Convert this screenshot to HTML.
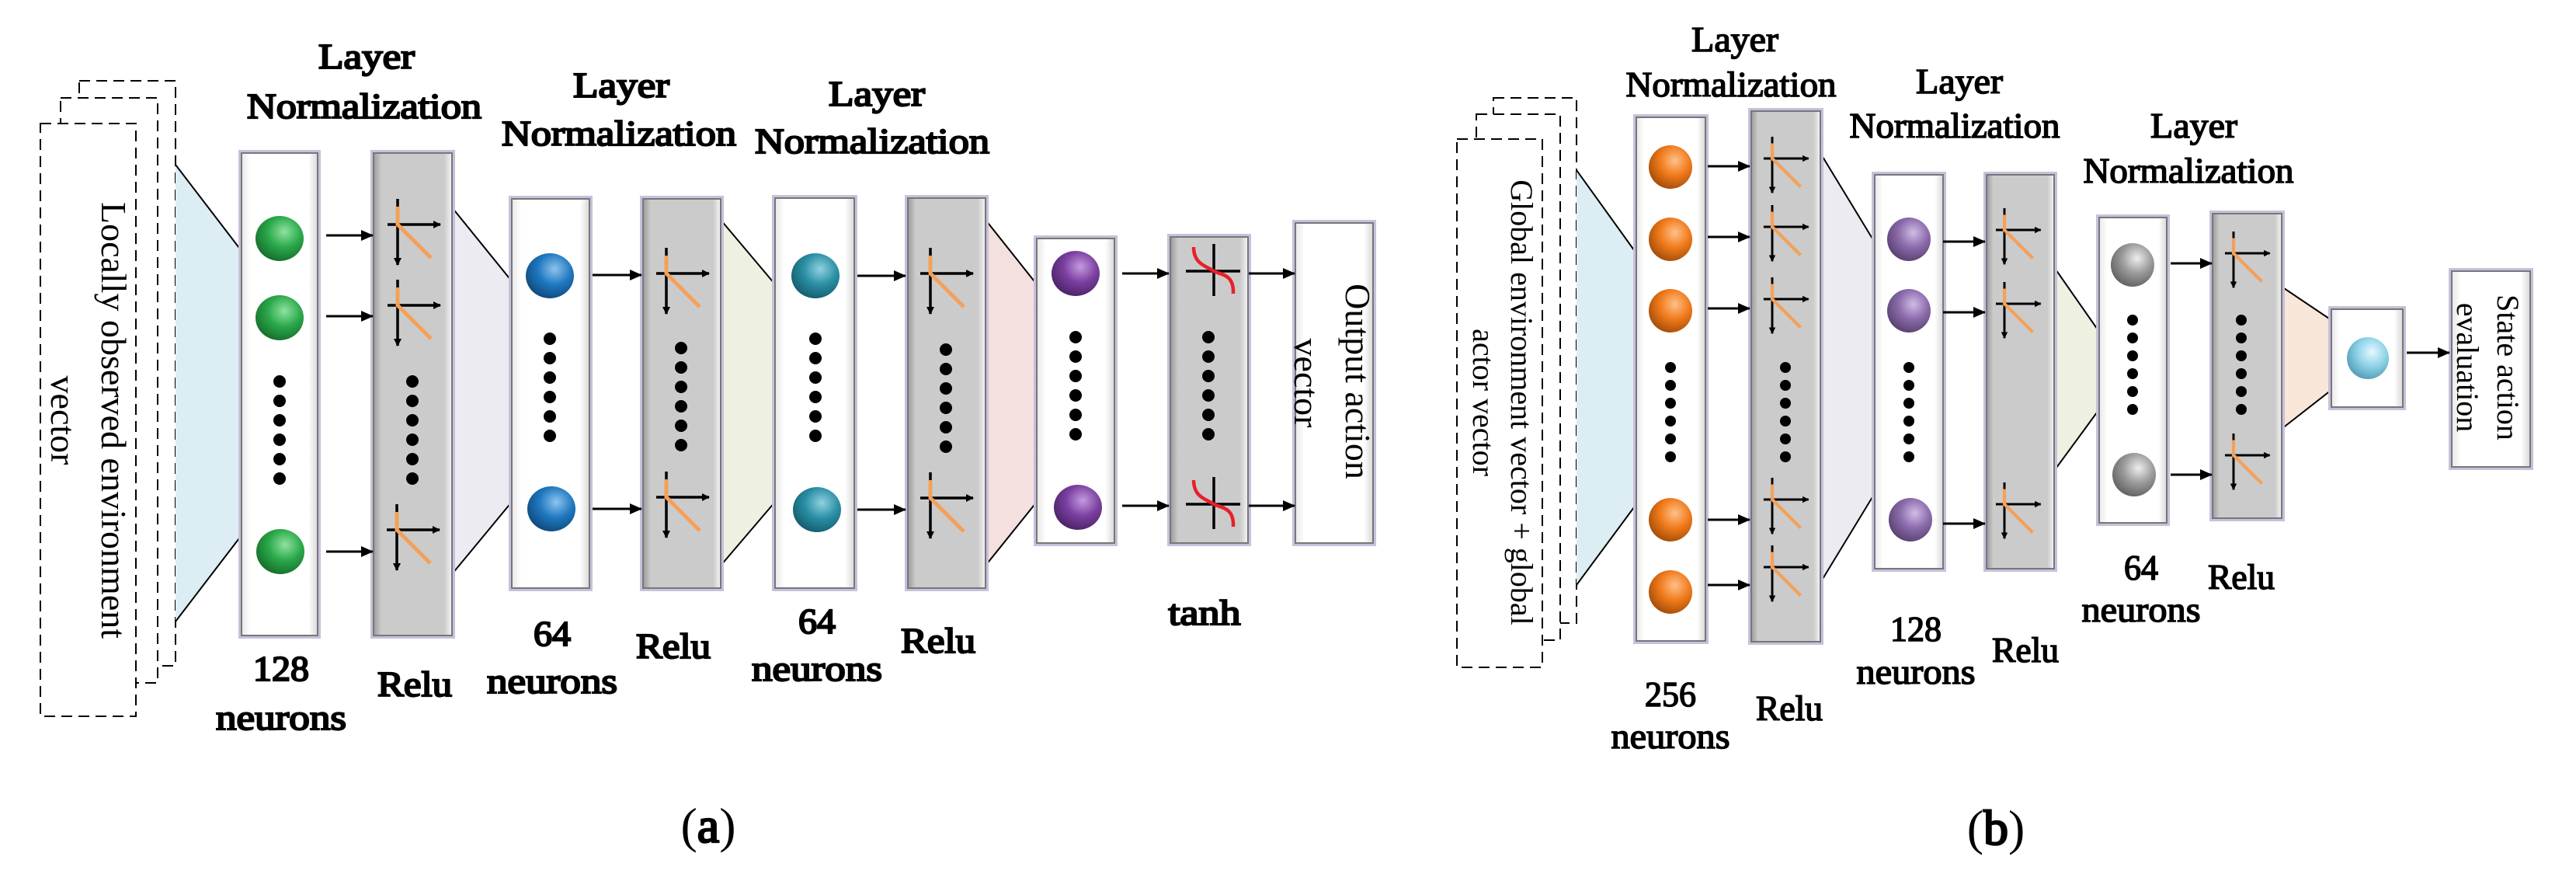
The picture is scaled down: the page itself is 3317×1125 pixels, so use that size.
<!DOCTYPE html>
<html><head><meta charset="utf-8"><style>
html,body{margin:0;padding:0;background:#fff;}
svg{display:block;}
</style></head><body>
<svg width="3317" height="1125" viewBox="0 0 3317 1125" xmlns="http://www.w3.org/2000/svg">
<defs>
<marker id="ah" markerWidth="10" markerHeight="10" refX="9" refY="5" orient="auto" markerUnits="userSpaceOnUse"><path d="M0,0 L10,5 L0,10z" fill="#000"/></marker>
<marker id="ab" markerWidth="16" markerHeight="14" refX="15" refY="7" orient="auto" markerUnits="userSpaceOnUse"><path d="M0,0 L16,7 L0,14z" fill="#000"/></marker>
<linearGradient id="gw" x1="0" x2="1"><stop offset="0" stop-color="#e8e8e8"/><stop offset="0.12" stop-color="#fff"/><stop offset="0.88" stop-color="#fff"/><stop offset="1" stop-color="#d8d8d8"/></linearGradient>
<linearGradient id="gg" x1="0" x2="1"><stop offset="0" stop-color="#9a9a9a"/><stop offset="0.1" stop-color="#cbcbcb"/><stop offset="0.9" stop-color="#cbcbcb"/><stop offset="1" stop-color="#f4f4f4"/></linearGradient>
<radialGradient id="n1" cx="0.6" cy="0.35" r="0.7"><stop offset="0" stop-color="#8fe39f"/><stop offset="0.5" stop-color="#2aa84a"/><stop offset="1" stop-color="#156b2a"/></radialGradient>
<radialGradient id="n2" cx="0.6" cy="0.35" r="0.7"><stop offset="0" stop-color="#8cc4ef"/><stop offset="0.5" stop-color="#1f78c0"/><stop offset="1" stop-color="#0f4778"/></radialGradient>
<radialGradient id="n3" cx="0.6" cy="0.35" r="0.7"><stop offset="0" stop-color="#90d2e0"/><stop offset="0.5" stop-color="#2a8fa5"/><stop offset="1" stop-color="#145a6a"/></radialGradient>
<radialGradient id="n4" cx="0.6" cy="0.35" r="0.7"><stop offset="0" stop-color="#c59ae0"/><stop offset="0.5" stop-color="#7a3fa0"/><stop offset="1" stop-color="#4a2262"/></radialGradient>
<radialGradient id="n5" cx="0.6" cy="0.35" r="0.7"><stop offset="0" stop-color="#ffc08a"/><stop offset="0.5" stop-color="#f07a1a"/><stop offset="1" stop-color="#a04a08"/></radialGradient>
<radialGradient id="n6" cx="0.6" cy="0.35" r="0.7"><stop offset="0" stop-color="#d0bce6"/><stop offset="0.5" stop-color="#8a6aaa"/><stop offset="1" stop-color="#56406e"/></radialGradient>
<radialGradient id="n7" cx="0.6" cy="0.35" r="0.7"><stop offset="0" stop-color="#eee"/><stop offset="0.5" stop-color="#9a9a9a"/><stop offset="1" stop-color="#5e5e5e"/></radialGradient>
<radialGradient id="n8" cx="0.6" cy="0.35" r="0.7"><stop offset="0" stop-color="#e6f8ff"/><stop offset="0.5" stop-color="#8fd3e8"/><stop offset="1" stop-color="#4f9ab2"/></radialGradient>
<g id="relu">
<line x1="0" y1="-33" x2="0" y2="52" stroke="#000" stroke-width="3.5" marker-end="url(#ah)"/>
<line x1="-13" y1="0" x2="55" y2="0" stroke="#000" stroke-width="3.5" marker-end="url(#ah)"/>
<polyline points="0,-23 0,0 43,43" fill="none" stroke="#f4a05a" stroke-width="5"/>
</g>
<g id="tanh">
<line x1="-36" y1="0" x2="34" y2="0" stroke="#000" stroke-width="3.5"/>
<line x1="0" y1="-35" x2="0" y2="32" stroke="#000" stroke-width="3.5"/>
<path d="M-26,-31 C-26,-8 -8,-6 0,0 C10,5 26,4 25,29" fill="none" stroke="#e8202a" stroke-width="4.5"/>
</g>
<g id="dots6a"><circle cx="0" cy="0" r="8"/><circle cx="0" cy="25" r="8"/><circle cx="0" cy="50" r="8"/><circle cx="0" cy="75" r="8"/><circle cx="0" cy="100" r="8"/><circle cx="0" cy="125" r="8"/></g>
<g id="dots6b"><circle cx="0" cy="0" r="7"/><circle cx="0" cy="23" r="7"/><circle cx="0" cy="46" r="7"/><circle cx="0" cy="69" r="7"/><circle cx="0" cy="92" r="7"/><circle cx="0" cy="115" r="7"/></g>
</defs>

<!-- ============ (a) ============ -->
<g fill="#fff" stroke="#000" stroke-width="2" stroke-dasharray="14,8">
<rect x="102" y="104" width="124" height="753"/>
<rect x="78" y="126" width="125" height="753"/>
<rect x="52" y="159" width="123" height="763"/>
</g>
<g font-family="Liberation Serif, serif" font-size="46" text-anchor="middle">
<text transform="translate(147,541) rotate(90)" dy="16">Locally observed environment</text>
<text transform="translate(82,541) rotate(90)" dy="16">vector</text>
</g>

<polygon points="226,212 311,323 311,689 226,800" fill="#dceef4"/>
<line x1="226" y1="212" x2="311" y2="323" stroke="#000" stroke-width="2"/><line x1="226" y1="800" x2="311" y2="689" stroke="#000" stroke-width="2"/>
<polygon points="582,267 659,362 659,646 582,739" fill="#edebf2"/>
<line x1="582" y1="267" x2="659" y2="362" stroke="#000" stroke-width="2"/><line x1="582" y1="739" x2="659" y2="646" stroke="#000" stroke-width="2"/>
<polygon points="928,283 998,366 998,646 928,728" fill="#eef1e2"/>
<line x1="928" y1="283" x2="998" y2="366" stroke="#000" stroke-width="2"/><line x1="928" y1="728" x2="998" y2="646" stroke="#000" stroke-width="2"/>
<polygon points="1269,283 1335,366 1335,646 1269,728" fill="#f4e0de"/>
<line x1="1269" y1="283" x2="1335" y2="366" stroke="#000" stroke-width="2"/><line x1="1269" y1="728" x2="1335" y2="646" stroke="#000" stroke-width="2"/>

<g stroke="#c8c0dc" stroke-width="8" fill="none">
<rect x="311" y="197" width="98" height="621"/><rect x="481" y="197" width="101" height="621"/>
<rect x="659" y="256" width="100" height="501"/><rect x="828" y="256" width="100" height="501"/>
<rect x="998" y="255" width="102" height="502"/><rect x="1169" y="255" width="100" height="502"/>
<rect x="1335" y="307" width="100" height="392"/><rect x="1507" y="305" width="100" height="394"/>
<rect x="1668" y="287" width="100" height="412"/>
</g>
<g stroke="#777" stroke-width="2">
<rect x="311" y="197" width="98" height="621" fill="url(#gw)"/><rect x="481" y="197" width="101" height="621" fill="url(#gg)"/>
<rect x="659" y="256" width="100" height="501" fill="url(#gw)"/><rect x="828" y="256" width="100" height="501" fill="url(#gg)"/>
<rect x="998" y="255" width="102" height="502" fill="url(#gw)"/><rect x="1169" y="255" width="100" height="502" fill="url(#gg)"/>
<rect x="1335" y="307" width="100" height="392" fill="url(#gw)"/><rect x="1507" y="305" width="100" height="394" fill="url(#gg)"/>
<rect x="1668" y="287" width="100" height="412" fill="url(#gw)"/>
</g>

<ellipse cx="360" cy="307" rx="31" ry="29" fill="url(#n1)"/>
<ellipse cx="360" cy="409" rx="31" ry="29" fill="url(#n1)"/>
<ellipse cx="361" cy="710" rx="31" ry="29" fill="url(#n1)"/>
<ellipse cx="708" cy="355" rx="31" ry="29" fill="url(#n2)"/>
<ellipse cx="710" cy="655" rx="31" ry="29" fill="url(#n2)"/>
<ellipse cx="1050" cy="355" rx="31" ry="29" fill="url(#n3)"/>
<ellipse cx="1052" cy="656" rx="31" ry="29" fill="url(#n3)"/>
<ellipse cx="1385" cy="352" rx="31" ry="29" fill="url(#n4)"/>
<ellipse cx="1388" cy="653" rx="31" ry="29" fill="url(#n4)"/>

<g fill="#000">
<use href="#dots6a" x="360" y="491"/><use href="#dots6a" x="531" y="491"/>
<use href="#dots6a" x="708" y="436"/><use href="#dots6a" x="877" y="448"/>
<use href="#dots6a" x="1050" y="436"/><use href="#dots6a" x="1218" y="450"/>
<use href="#dots6a" x="1385" y="434"/><use href="#dots6a" x="1556" y="434"/>
</g>

<use href="#relu" x="512" y="289"/><use href="#relu" x="512" y="393"/><use href="#relu" x="511" y="682"/>
<use href="#relu" x="858" y="352"/><use href="#relu" x="858" y="640"/>
<use href="#relu" x="1198" y="352"/><use href="#relu" x="1198" y="641"/>
<use href="#tanh" x="1563" y="349"/><use href="#tanh" x="1563" y="649"/>

<g stroke="#000" stroke-width="3" marker-end="url(#ab)">
<line x1="420" y1="303" x2="480" y2="303"/><line x1="420" y1="407" x2="480" y2="407"/><line x1="420" y1="710" x2="480" y2="710"/>
<line x1="763" y1="354" x2="826" y2="354"/><line x1="763" y1="655" x2="826" y2="655"/>
<line x1="1104" y1="355" x2="1166" y2="355"/><line x1="1104" y1="656" x2="1166" y2="656"/>
<line x1="1445" y1="352" x2="1505" y2="352"/><line x1="1445" y1="651" x2="1505" y2="651"/>
<line x1="1608" y1="352" x2="1667" y2="352"/><line x1="1608" y1="651" x2="1667" y2="651"/>
</g>
<g font-family="Liberation Serif, serif" font-size="46" text-anchor="middle">
<text transform="translate(1749,491) rotate(90)" dy="16">Output action</text>
<text transform="translate(1683,493) rotate(90)" dy="16">vector</text>
</g>

<g font-family="Liberation Serif, serif" font-size="46" text-anchor="middle" stroke="#000" stroke-width="2.2">
<text x="472" y="88" textLength="124" lengthAdjust="spacingAndGlyphs">Layer</text><text x="469" y="152" textLength="302" lengthAdjust="spacingAndGlyphs">Normalization</text>
<text x="800" y="125" textLength="124" lengthAdjust="spacingAndGlyphs">Layer</text><text x="797" y="187" textLength="302" lengthAdjust="spacingAndGlyphs">Normalization</text>
<text x="1129" y="136" textLength="124" lengthAdjust="spacingAndGlyphs">Layer</text><text x="1123" y="197" textLength="302" lengthAdjust="spacingAndGlyphs">Normalization</text>
<text x="362" y="876" textLength="72" lengthAdjust="spacingAndGlyphs">128</text><text x="362" y="939" textLength="168" lengthAdjust="spacingAndGlyphs">neurons</text>
<text x="534" y="896" textLength="96" lengthAdjust="spacingAndGlyphs">Relu</text>
<text x="711" y="831" textLength="48" lengthAdjust="spacingAndGlyphs">64</text><text x="711" y="892" textLength="168" lengthAdjust="spacingAndGlyphs">neurons</text>
<text x="867" y="847" textLength="96" lengthAdjust="spacingAndGlyphs">Relu</text>
<text x="1052" y="815" textLength="48" lengthAdjust="spacingAndGlyphs">64</text><text x="1052" y="876" textLength="168" lengthAdjust="spacingAndGlyphs">neurons</text>
<text x="1208" y="840" textLength="96" lengthAdjust="spacingAndGlyphs">Relu</text>
<text x="1551" y="804" textLength="93" lengthAdjust="spacingAndGlyphs">tanh</text>
</g>
<text x="912" y="1084" font-family="Liberation Serif, serif" font-size="64" text-anchor="middle">(<tspan stroke="#000" stroke-width="2.5">a</tspan>)</text>

<!-- ============ (b) ============ -->
<g fill="#fff" stroke="#000" stroke-width="2" stroke-dasharray="14,8">
<rect x="1923" y="126" width="107" height="676"/>
<rect x="1901" y="147" width="108" height="677"/>
<rect x="1876" y="179" width="110" height="680"/>
</g>
<g font-family="Liberation Serif, serif" font-size="40" text-anchor="middle">
<text transform="translate(1960,518) rotate(90)" dy="14">Global environment vector + global</text>
<text transform="translate(1911,518) rotate(90)" dy="14">actor vector</text>
</g>

<polygon points="2030,219 2107,326 2107,649 2030,753" fill="#dceef4"/>
<line x1="2030" y1="219" x2="2107" y2="326" stroke="#000" stroke-width="2"/><line x1="2030" y1="753" x2="2107" y2="649" stroke="#000" stroke-width="2"/>
<polygon points="2344,197 2414,312 2414,635 2344,750" fill="#edebf2"/>
<line x1="2344" y1="197" x2="2414" y2="312" stroke="#000" stroke-width="2"/><line x1="2344" y1="750" x2="2414" y2="635" stroke="#000" stroke-width="2"/>
<polygon points="2645,344 2703,427 2703,527 2645,606" fill="#eef1e2"/>
<line x1="2645" y1="344" x2="2703" y2="427" stroke="#000" stroke-width="2"/><line x1="2645" y1="606" x2="2703" y2="527" stroke="#000" stroke-width="2"/>
<polygon points="2938,369 3002,412 3002,502 2938,552" fill="#f8e6d8"/>
<line x1="2938" y1="369" x2="3002" y2="412" stroke="#000" stroke-width="2"/><line x1="2938" y1="552" x2="3002" y2="502" stroke="#000" stroke-width="2"/>

<g stroke="#c8c0dc" stroke-width="8" fill="none">
<rect x="2107" y="151" width="89" height="674"/><rect x="2255" y="143" width="89" height="683"/>
<rect x="2414" y="225" width="88" height="507"/><rect x="2558" y="225" width="87" height="507"/>
<rect x="2703" y="280" width="87" height="393"/><rect x="2849" y="275" width="89" height="392"/>
<rect x="3002" y="398" width="92" height="126"/><rect x="3157" y="349" width="101" height="252"/>
</g>
<g stroke="#777" stroke-width="2">
<rect x="2107" y="151" width="89" height="674" fill="url(#gw)"/><rect x="2255" y="143" width="89" height="683" fill="url(#gg)"/>
<rect x="2414" y="225" width="88" height="507" fill="url(#gw)"/><rect x="2558" y="225" width="87" height="507" fill="url(#gg)"/>
<rect x="2703" y="280" width="87" height="393" fill="url(#gw)"/><rect x="2849" y="275" width="89" height="392" fill="url(#gg)"/>
<rect x="3002" y="398" width="92" height="126" fill="url(#gw)"/><rect x="3157" y="349" width="101" height="252" fill="url(#gw)"/>
</g>

<ellipse cx="2151" cy="215" rx="28" ry="28" fill="url(#n5)"/>
<ellipse cx="2151" cy="308" rx="28" ry="28" fill="url(#n5)"/>
<ellipse cx="2151" cy="400" rx="28" ry="28" fill="url(#n5)"/>
<ellipse cx="2151" cy="669" rx="28" ry="28" fill="url(#n5)"/>
<ellipse cx="2151" cy="762" rx="28" ry="28" fill="url(#n5)"/>
<ellipse cx="2458" cy="308" rx="28" ry="28" fill="url(#n6)"/>
<ellipse cx="2458" cy="400" rx="28" ry="28" fill="url(#n6)"/>
<ellipse cx="2460" cy="669" rx="28" ry="28" fill="url(#n6)"/>
<ellipse cx="2746" cy="341" rx="28" ry="28" fill="url(#n7)"/>
<ellipse cx="2748" cy="611" rx="28" ry="28" fill="url(#n7)"/>
<ellipse cx="3049" cy="461" rx="27" ry="27" fill="url(#n8)"/>
<g fill="#000">
<use href="#dots6b" x="2151" y="473"/><use href="#dots6b" x="2299" y="473"/>
<use href="#dots6b" x="2458" y="473"/>
<use href="#dots6b" x="2746" y="412"/><use href="#dots6b" x="2886" y="412"/>
</g>
<g transform="translate(2282,204) scale(0.85)"><use href="#relu"/></g>
<g transform="translate(2282,292) scale(0.85)"><use href="#relu"/></g>
<g transform="translate(2282,385) scale(0.85)"><use href="#relu"/></g>
<g transform="translate(2282,643) scale(0.85)"><use href="#relu"/></g>
<g transform="translate(2282,730) scale(0.85)"><use href="#relu"/></g>
<g transform="translate(2581,296) scale(0.85)"><use href="#relu"/></g>
<g transform="translate(2581,391) scale(0.85)"><use href="#relu"/></g>
<g transform="translate(2581,649) scale(0.85)"><use href="#relu"/></g>
<g transform="translate(2876,326) scale(0.85)"><use href="#relu"/></g>
<g transform="translate(2876,586) scale(0.85)"><use href="#relu"/></g>

<g stroke="#000" stroke-width="3" marker-end="url(#ab)">
<line x1="2199" y1="214" x2="2253" y2="214"/><line x1="2199" y1="305" x2="2253" y2="305"/><line x1="2199" y1="397" x2="2253" y2="397"/>
<line x1="2199" y1="669" x2="2253" y2="669"/><line x1="2199" y1="753" x2="2253" y2="753"/>
<line x1="2502" y1="311" x2="2556" y2="311"/><line x1="2502" y1="402" x2="2556" y2="402"/><line x1="2502" y1="674" x2="2556" y2="674"/>
<line x1="2795" y1="339" x2="2848" y2="339"/><line x1="2795" y1="611" x2="2848" y2="611"/>
<line x1="3099" y1="454" x2="3154" y2="454"/>
</g>
<g font-family="Liberation Serif, serif" font-size="40" text-anchor="middle">
<text transform="translate(3230,473) rotate(90)" dy="14">State action</text>
<text transform="translate(3178,473) rotate(90)" dy="14">evaluation</text>
</g>

<g font-family="Liberation Serif, serif" font-size="46" text-anchor="middle" stroke="#000" stroke-width="1.6">
<text x="2234" y="66" textLength="112" lengthAdjust="spacingAndGlyphs">Layer</text>
<text x="2229" y="124" textLength="271" lengthAdjust="spacingAndGlyphs">Normalization</text>
<text x="2523" y="120" textLength="112" lengthAdjust="spacingAndGlyphs">Layer</text>
<text x="2517" y="177" textLength="271" lengthAdjust="spacingAndGlyphs">Normalization</text>
<text x="2825" y="177" textLength="112" lengthAdjust="spacingAndGlyphs">Layer</text>
<text x="2818" y="235" textLength="271" lengthAdjust="spacingAndGlyphs">Normalization</text>
<text x="2151" y="909" textLength="66" lengthAdjust="spacingAndGlyphs">256</text><text x="2151" y="963" textLength="153" lengthAdjust="spacingAndGlyphs">neurons</text>
<text x="2304" y="927" textLength="86" lengthAdjust="spacingAndGlyphs">Relu</text>
<text x="2467" y="825" textLength="66" lengthAdjust="spacingAndGlyphs">128</text><text x="2467" y="880" textLength="153" lengthAdjust="spacingAndGlyphs">neurons</text>
<text x="2608" y="852" textLength="86" lengthAdjust="spacingAndGlyphs">Relu</text>
<text x="2757" y="746" textLength="44" lengthAdjust="spacingAndGlyphs">64</text><text x="2757" y="800" textLength="153" lengthAdjust="spacingAndGlyphs">neurons</text>
<text x="2886" y="758" textLength="86" lengthAdjust="spacingAndGlyphs">Relu</text>
</g>
<text x="2570" y="1087" font-family="Liberation Serif, serif" font-size="64" text-anchor="middle">(<tspan stroke="#000" stroke-width="2.5">b</tspan>)</text>
</svg>
</body></html>
